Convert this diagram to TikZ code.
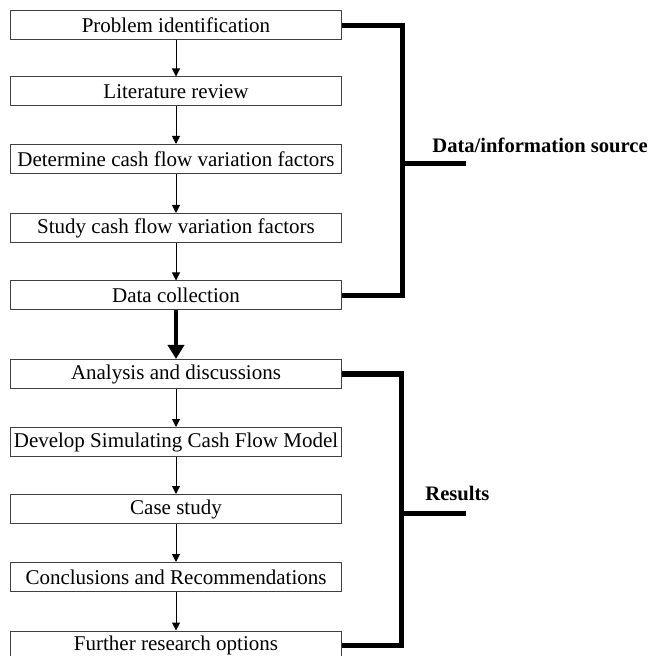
\documentclass[tikz,border=0pt]{standalone}
\usepackage{fontspec}
\setmainfont{Liberation Serif}
\usetikzlibrary{arrows.meta}

\begin{document}
\begin{tikzpicture}[x=0.5pt,y=-0.5pt,
	stepbox/.style={draw=black!75,line width=0.5pt,minimum width=165.5pt,minimum height=14.5pt,inner sep=0pt,font=\fontsize{10.5}{12}\selectfont},
	flow/.style={-{Triangle[length=4pt,width=4pt]},line width=0.5pt},
	bigflow/.style={-{Triangle[length=7pt,width=8pt]},line width=2pt},
	bracket/.style={line width=2.5pt,line join=miter},
	lbl/.style={font=\bfseries\fontsize{10.3}{12}\selectfont,inner sep=0pt}]
			\useasboundingbox (0,0) rectangle (651,656);
			\node[stepbox] (p1) at (176,25.5){Problem identification};
			\node[stepbox] (p2) at (176,91.5){Literature review};
			\node[stepbox] (p3) at (176,159){Determine cash flow variation factors};
			\node[stepbox] (p4) at (176,228){Study cash flow variation factors};
			\node[stepbox] (p5) at (176,295.5){Data collection};
			
			\node[stepbox] (p6) at (176,374){Analysis and discussions};
			\node[stepbox] (p7) at (176,442){Develop Simulating Cash Flow Model};
			\node[stepbox] (p8) at (176,509){Case study};
			\node[stepbox] (p9) at (176,577){Conclusions and Recommendations};
			\node[stepbox] (p10) at (176,645.5){Further research options};
			
			\draw (p1) edge [flow] (p2); 
			\draw (p2) edge [flow] (p3); 
			\draw (p3) edge [flow] (p4); 
			\draw (p4) edge [flow] (p5); 
			\draw (p5) edge [bigflow] (p6); 
			\draw (p6) edge [flow] (p7); 
			\draw (p7) edge [flow] (p8); 
			\draw (p8) edge [flow] (p9); 
			\draw (p9) edge [flow] (p10); 
			
			\coordinate (b1) at (402,164);
			\coordinate (s1) at (466,164);
			\draw[bracket] (p1.east) -| (b1) |- (p5.east);
			\draw[bracket] (b1) -- (s1);
			\node[lbl,anchor=base west] (l1) at (432,153){Data/information source};
			
			\coordinate (b2) at (401,513);
			\coordinate (s2) at (466,513);
			\draw[bracket] (p6.east) -| (b2) |- (p10.east);
			\draw[bracket] (b2) -- (s2);
			\node[lbl,anchor=base west] (l2) at (425,500){Results};
		\end{tikzpicture}
\end{document}
